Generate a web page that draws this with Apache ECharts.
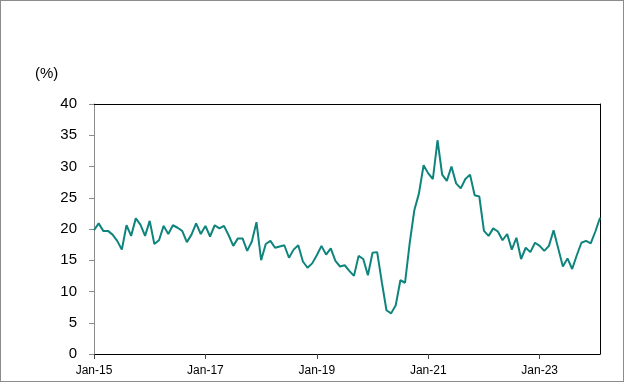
<!DOCTYPE html>
<html>
<head>
<meta charset="utf-8">
<script src="https://cdn.jsdelivr.net/npm/echarts@6/dist/echarts.min.js"></script>
<style>
  html, body { margin: 0; padding: 0; background: #fff; }
  #wrap { width: 624px; height: 382px; box-sizing: border-box; border: 1px solid #8c8c8c; position: relative; }
  #chart { position: absolute; left: -1px; top: -1px; width: 624px; height: 382px; }
</style>
</head>
<body>
<div id="wrap"><div id="chart"></div></div>
<script>
// Monthly categories Jan-15 .. Feb-24
const monthNames = ['Jan','Feb','Mar','Apr','May','Jun','Jul','Aug','Sep','Oct','Nov','Dec'];
const categories = [];
for (let y = 15; y <= 24; y++) {
  for (let m = 0; m < 12; m++) {
    if (y === 24 && m > 1) break;
    categories.push(monthNames[m] + '-' + y);
  }
}

// Series values (%)
const values = [
  19.8, 20.9, 19.7, 19.7, 19.1, 18.1, 16.7, 20.6, 18.9, 21.7, 20.7, 18.9,
  21.3, 17.6, 18.2, 20.5, 19.2, 20.6, 20.2, 19.7, 17.9, 19.1, 20.9, 19.2,
  20.5, 18.8, 20.6, 20.1, 20.5, 19.0, 17.3, 18.5, 18.5, 16.5, 18.0, 21.1,
  15.0, 17.6, 18.1, 17.0, 17.2, 17.4, 15.4, 16.7, 17.4, 14.8, 13.8, 14.5,
  15.8, 17.3, 15.9, 16.9, 14.9, 14.0, 14.2, 13.3, 12.5, 15.7, 15.2, 12.6,
  16.2, 16.3, 11.5, 7.0, 6.5, 7.8, 11.8, 11.4, 17.7, 23.0, 25.7, 30.2,
  28.9, 28.0, 34.2, 28.7, 27.7, 30.0, 27.3, 26.5, 28.0, 28.7, 25.4, 25.2,
  19.7, 18.9, 20.1, 19.6, 18.2, 19.2, 16.7, 18.6, 15.2, 17.0, 16.3, 17.8,
  17.3, 16.5, 17.3, 19.8, 16.9, 14.0, 15.3, 13.6, 15.8, 17.8, 18.1, 17.7,
  19.6, 21.8
];

// X tick labels shown
const xTickLabels = ['Jan-15', 'Jan-17', 'Jan-19', 'Jan-21', 'Jan-23'];
const yUnit = '(%)';

const chart = echarts.init(document.getElementById('chart'), null, { renderer: 'canvas' });
chart.setOption({
  animation: false,
  backgroundColor: 'transparent',
  grid: { left: 94, top: 104, right: 24, bottom: 28, show: false },
  graphic: [{
    type: 'text', left: 35, top: 66,
    style: { text: yUnit, font: '15px "Liberation Sans", Arial, sans-serif', fill: '#000' }
  }],
  xAxis: [{
    type: 'category',
    data: categories,
    boundaryGap: false,
    axisLine: { show: true, lineStyle: { color: '#000', width: 1 } },
    axisTick: {
      show: true, length: 5, lineStyle: { color: '#444' },
      interval: (i, v) => xTickLabels.includes(v)
    },
    axisLabel: {
      interval: (i, v) => xTickLabels.includes(v),
      fontFamily: '"Liberation Sans Narrow", "Liberation Sans", Arial, sans-serif',
      fontSize: 12, color: '#000', margin: 11
    },
    splitLine: { show: false }
  }, {
    type: 'category',
    data: categories,
    boundaryGap: false,
    position: 'top',
    axisLine: { show: true, onZero: false, lineStyle: { color: '#000', width: 1 } },
    axisTick: { show: false },
    axisLabel: { show: false },
    splitLine: { show: false }
  }],
  yAxis: [{
    type: 'value',
    min: 0, max: 40, interval: 5,
    axisLine: { show: true, lineStyle: { color: '#8c8c8c', width: 1 } },
    axisTick: { show: true, length: 5, lineStyle: { color: '#8c8c8c' } },
    axisLabel: {
      fontFamily: '"Liberation Sans", Arial, sans-serif',
      fontSize: 15, color: '#000', margin: 17
    },
    splitLine: { show: false }
  }, {
    type: 'value',
    min: 0, max: 40, interval: 5,
    position: 'right',
    axisLine: { show: true, onZero: false, lineStyle: { color: '#000', width: 1 } },
    axisTick: { show: false },
    axisLabel: { show: false },
    splitLine: { show: false }
  }],
  series: [{
    type: 'line',
    data: values,
    xAxisIndex: 0,
    yAxisIndex: 0,
    showSymbol: false,
    symbol: 'none',
    lineStyle: { color: '#0E847D', width: 2 },
    itemStyle: { color: '#0E847D' }
  }]
});
</script>
</body>
</html>
